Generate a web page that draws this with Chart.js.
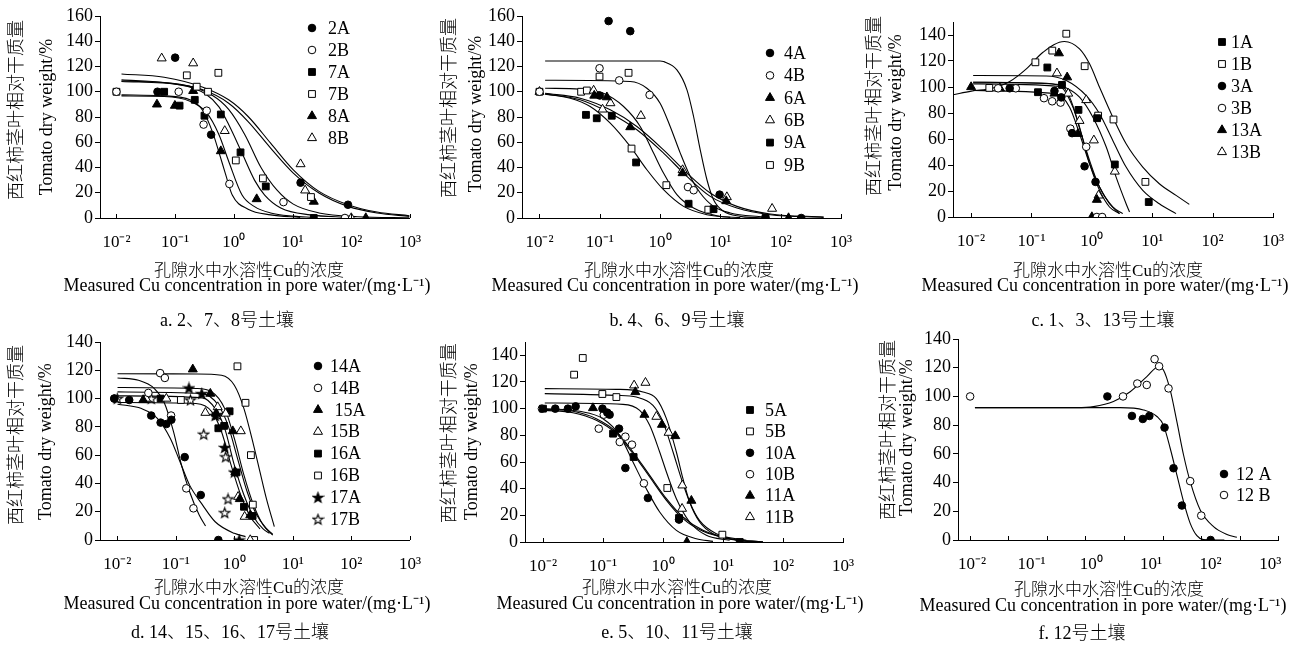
<!DOCTYPE html>
<html>
<head>
<meta charset="utf-8">
<script src="https://cdn.jsdelivr.net/npm/chart.js@4.4.1/dist/chart.umd.min.js"></script>
<style>
  body { margin: 0; background: #fff; width: 1305px; height: 650px; position: relative; overflow: hidden; }
  canvas { position: absolute; }
</style>
</head>
<body>
<script>
const FONT = '"Liberation Serif", "Noto Sans CJK SC", serif';

// axis ticks
const xTickValues = [0.01, 0.1, 1, 10, 100, 1000];
const xTickLabels = ['10⁻²', '10⁻¹', '10⁰', '10¹', '10²', '10³'];
const yTicks160 = [0, 20, 40, 60, 80, 100, 120, 140, 160];
const yTicks140 = [0, 20, 40, 60, 80, 100, 120, 140];
// panel f has its tick marks off the decades (log10 positions)
const fTickMarkExp = [-2.03, -1.39, -0.74, -0.10, 0.55, 1.20, 1.84, 2.49, 3.13];

// ---- a. soils 2, 7, 8  [Cu mg/L, dry weight %]
const s2A = [[0.05,100],[0.1,127],[0.41,66],[13.7,28],[88,10.5]];
const s2B = [[0.01,100],[0.115,100],[0.305,74],[0.345,85],[0.84,27],[7.0,12.6],[78,0]];
const s7A = [[0.065,100],[0.119,89],[0.216,93.6],[0.316,81],[0.6,82],[1.3,52],[3.5,25],[23,0]];
const s7B = [[0.01,100],[0.158,113],[0.233,104],[0.363,100],[0.545,115],[1.08,45.6],[3.13,31.4],[20.6,16.6]];
const s8A = [[0.049,90],[0.099,89],[0.203,100.7],[0.6,53],[2.45,15],[23,13],[177,0]];
const s8B = [[0.059,126.5],[0.203,122.6],[0.7,69],[13.7,42.7],[16.4,21.9],[100,0]];
const fitA1 = [[0.0122,97.5],[0.065,96.7],[0.179,93.6],[0.297,85],[0.434,68],[0.558,52],[0.72,35],[0.94,18.2],[1.75,7],[4.23,2.5],[13.5,0.5]];
const fitA2 = [[0.0122,96.7],[0.065,96.2],[0.179,92.5],[0.336,84],[0.558,66],[0.816,45],[1.38,18.2],[2.25,9],[4.23,4],[10.3,1.5],[22,0.5]];
const fitA3 = [[0.0122,108.1],[0.122,105.4],[0.336,98],[0.558,88],[0.816,74],[1.36,52],[2.25,30],[3.35,18.2],[6.3,8],[20,2.5],[90,0.5]];
const fitA4 = [[0.0122,108.5],[0.122,106],[0.434,97],[0.816,86],[1.54,66],[2.9,40],[5.45,22],[10.3,11],[28.2,4],[129,1],[975,0.2]];
const fitA5 = [[0.0122,114.1],[0.065,111.5],[0.297,103.6],[0.816,93.6],[1.75,80.4],[4.23,59.3],[10.3,38.2],[28.2,21.1],[88,10.5],[275,4.7],[975,1.8]];
const fitA6 = [[0.0122,109.4],[0.065,107.3],[0.297,101.5],[0.816,90.9],[1.75,76.4],[4.23,55.4],[10.3,35.6],[28.2,19.8],[88,9.2],[275,4],[975,1.3]];

// ---- b. soils 4, 6, 9
const s4A = [[0.1,97],[0.14,156],[0.32,148],[9.7,18.5],[56,0],[219,0]];
const s4B = [[0.01,100],[0.099,118.6],[0.21,109],[0.67,97.5],[2.9,24.5],[3.6,22]];
const s6A = [[0.081,97],[0.131,95.7],[0.32,72],[2.36,35.6],[12.5,13.4],[135,0]];
const s6B = [[0.01,100],[0.079,101],[0.111,86],[0.15,91],[0.48,81],[2.36,38],[12.8,16.6],[72,7.4]];
const s9A = [[0.059,81.7],[0.089,79],[0.158,81],[0.4,44],[2.97,11.3],[7.7,7],[56,0]];
const s9B = [[0.01,100],[0.049,100],[0.061,101],[0.099,112],[0.3,115],[0.336,55],[1.27,26],[6.3,6.6]];
const fitB1 = [[0.0124,124.4],[1.0,124.4],[1.14,123.9],[1.9,117.3],[2.79,101.5],[3.59,80.4],[4.63,54],[5.98,30.3],[7.7,14.5],[11.3,5.3],[21.4,1.3],[52,0]];
const fitB2 = [[0.0124,109.1],[0.319,108.1],[0.604,102.8],[1.0,90.9],[1.47,72.5],[2.16,51.4],[3.16,32.9],[4.63,19.8],[7.7,9.2],[14.6,4],[52,0.8]];
const fitB3 = [[0.0124,102.8],[0.0473,102],[0.115,98.8],[0.248,88.3],[0.468,72.5],[0.78,51.4],[1.14,35.6],[1.9,18.5],[3.59,7.9],[8.75,1.8],[21.4,0.3]];
const fitB4 = [[0.0124,98.1],[0.0323,94.9],[0.0693,88.3],[0.149,75.1],[0.319,56.7],[0.604,38.2],[1.14,22.4],[2.45,9.2],[5.98,2.6],[14.6,0.5]];
const fitB5 = [[0.0124,98.3],[0.0473,93.6],[0.149,83],[0.412,69.9],[1.14,51.4],[2.79,32.9],[6.79,17.1],[18.8,7.9],[67,2.6],[515,0.5]];
const fitB6 = [[0.0124,98.8],[0.0473,94.9],[0.149,85.7],[0.412,72.5],[1.14,54],[2.79,35.6],[6.79,19.8],[18.8,9.2],[67,3.2],[515,0.8]];

// ---- c. soils 1, 3, 13
const s1A = [[0.128,96],[0.183,115],[0.32,101.6],[0.6,82.4],[1.22,76],[2.4,40.4],[8.75,11.5]];
const s1B = [[0.02,99.3],[0.116,119],[0.221,128],[0.377,141],[0.76,116],[1.27,78],[2.28,75],[7.7,27]];
const s3A = [[0.0435,99],[0.24,97],[0.311,92],[0.47,64.5],[0.757,39],[1.15,27]];
const s3B = [[0.028,99],[0.055,99],[0.161,91.4],[0.22,89],[0.303,88],[0.44,68],[0.806,54],[1.21,0],[1.48,0]];
const s13A = [[0.01,100],[0.03,99],[0.24,95],[0.285,126],[0.39,107.5],[0.587,64],[1.0,0],[1.21,13.3]];
const s13B = [[0.264,110.6],[0.406,95],[0.625,74],[0.806,90],[1.08,59],[1.29,16.6],[2.4,35]];
const fitC1 = [[0.00504,94],[0.0101,96.8],[0.0231,99.3],[0.0436,104.2],[0.0822,113.9],[0.155,126.7],[0.35,135],[0.625,129.3],[0.915,117.8],[1.34,99.8],[2.22,76.8],[3.69,56.3],[6.97,38.4],[13.1,25.6],[24.8,16.6],[41.1,9.7]];
const fitC2 = [[0.0108,108.8],[0.176,108.5],[0.377,105],[0.806,93.4],[1.34,79.4],[2.22,58.9],[3.69,38.4],[6.97,20.5],[13.1,10.2],[24.8,2.6]];
const fitC3 = [[0.0108,103.7],[0.176,102.9],[0.377,99.3],[0.625,92.2],[1.04,76.8],[1.73,53.8],[2.52,30.7],[3.69,10.2],[4.2,3.8]];
const fitC4 = [[0.0108,103.7],[0.292,101.9],[0.428,92.2],[0.625,69.1],[0.915,41],[1.34,20.5],[1.96,7.7],[2.87,2.6]];
const fitC5 = [[0.0108,102.4],[0.292,100.4],[0.485,84.5],[0.667,64],[0.915,43.5],[1.34,23],[2.22,7.7],[3.25,2.6]];
const fitC6 = [[0.0108,97.3],[0.257,94.7],[0.428,84.5],[0.625,64],[0.915,41],[1.34,23],[1.96,10.2],[2.87,2.6]];

// ---- d. soils 14, 15, 16, 17
const s14A = [[0.0089,100],[0.016,99],[0.038,88],[0.055,83],[0.069,82],[0.084,85],[0.142,58.6],[0.267,31.8],[0.533,0]];
const s14B = [[0.0089,100],[0.034,104],[0.054,118],[0.065,114.6],[0.083,88],[0.151,36.5],[0.2,22.4]];
const s15A = [[0.0277,99],[0.195,120.7],[0.389,103.5],[0.488,89.4],[0.94,77],[1.04,48],[1.24,29],[1.87,17.6]];
const s15B = [[0.031,100],[0.069,100],[0.32,90],[0.52,94],[0.71,89.4],[1.29,77],[1.16,30.6],[1.5,16.5],[1.87,0]];
const s16A = [[0.055,100],[0.533,79],[0.67,80.7],[0.83,91],[1.09,47.8],[1.46,23.5],[2.05,17]];
const s16B = [[0.122,99],[1.13,122.8],[1.55,97],[1.92,60],[2.07,25],[2.18,0]];
const s17A = [[0.168,107.5],[0.277,103.5],[0.47,88],[0.685,65.4],[1.0,48],[1.21,0]];
const s17B = [[0.01,100],[0.038,100],[0.178,99],[0.3,74.8],[0.513,88.7],[0.71,58.8],[0.78,29],[0.685,19.3]];
const fitD1 = [[0.0101,114.6],[0.023,112.9],[0.043,107.1],[0.0628,97.6],[0.0916,76.5],[0.125,52.9],[0.172,34.1],[0.251,17.6],[0.322,9.9]];
const fitD2 = [[0.0101,96],[0.026,92.9],[0.0489,85.9],[0.0807,71.8],[0.118,55.3],[0.172,38.8],[0.284,25],[0.47,12.9],[1.0,4.7],[1.553,2.4]];
const fitD3 = [[0.0101,117.6],[0.221,117.4],[0.604,116.5],[1.0,109.4],[1.459,92.9],[2.13,67.1],[2.74,48.2],[3.52,29.4],[4.82,9.4]];
const fitD4 = [[0.0101,107.8],[0.221,107.1],[0.414,104.7],[0.686,92.9],[1.0,71.8],[1.459,45.9],[2.13,24.7],[3.1,10.6],[4.53,3.5]];
const fitD5 = [[0.0101,104.7],[0.284,103.5],[0.533,95.3],[0.778,81.2],[1.135,57.6],[1.655,34.1],[2.415,17.6],[3.52,8.2],[4.53,4]];
const fitD6 = [[0.0101,101.9],[0.284,100.5],[0.47,92.9],[0.686,78.8],[1.0,52.9],[1.459,31.8],[2.13,16.5],[3.1,7.8],[3.99,4.7]];
const fitD7 = [[0.0101,97.2],[0.221,96.5],[0.414,90.6],[0.604,76.5],[0.881,52.9],[1.286,31.8],[1.876,16.5],[2.74,7.8]];

// ---- e. soils 5, 10, 11
const s5A = [[0.01,100],[0.147,81.25],[0.324,63.75],[1.85,18],[19,0]];
const s5B = [[0.033,125.5],[0.046,138],[0.0975,111],[0.167,108.7],[1.18,40.5],[9.75,5.5]];
const s10A = [[0.016,100],[0.026,100],[0.035,101.7],[0.098,100],[0.118,97],[0.129,95.5],[0.185,85],[0.236,55.5],[0.56,33],[1.85,16.8]];
const s10B = [[0.0096,100],[0.085,85],[0.103,95.5],[0.19,75],[0.236,79],[0.304,73],[0.48,44]];
const s11A = [[0.068,100.5],[0.346,112.5],[0.49,95.5],[0.96,88],[1.6,79.5],[2.97,31],[2.5,0]];
const s11B = [[0.33,117.5],[0.51,119.5],[0.775,94],[1.24,82],[2.1,42.5],[2.08,25]];
const fitE1 = [[0.0107,115],[0.167,114.5],[0.464,112.5],[0.774,107.5],[1.14,92.5],[1.67,67.5],[2.15,47.5],[2.78,30],[4.08,15],[6.81,6.25],[16.7,1.25],[46.4,0]];
const fitE2 = [[0.0107,111.25],[0.167,110],[0.36,108.7],[0.681,102.5],[1.0,90],[1.47,67.5],[2.02,47.5],[2.78,30],[4.08,16],[7.74,6.25],[24.5,1.25]];
const fitE3 = [[0.0107,104.25],[0.215,103.25],[0.409,98.75],[0.6,87.5],[0.88,67.5],[1.14,52.5],[1.67,32.5],[2.78,15],[5.27,5],[12.9,1.25]];
const fitE4 = [[0.0107,99.5],[0.0316,98],[0.0774,92.5],[0.167,82.5],[0.316,67.5],[0.6,50],[1.14,32.5],[2.15,18.75],[4.64,8.75],[12.9,2.5],[46.4,0]];
const fitE5 = [[0.0107,98.75],[0.0316,97],[0.0774,91.25],[0.167,81.25],[0.316,66.25],[0.6,48.75],[1.14,31.25],[2.15,17.5],[4.64,8],[12.9,2.5],[46.4,0]];
const fitE6 = [[0.0107,100],[0.0409,98],[0.1,92.5],[0.19,80],[0.316,60],[0.527,40],[0.88,22.5],[1.67,8.75],[3.59,2.5],[6.81,0.5]];

// ---- f. soil 12
const s12A = [[1.86,100],[4.8,86.4],[7.3,84.3],[9.4,86.4],[16.9,78.3],[23.9,50],[33,24],[100,0]];
const s12B = [[0.0093,100],[3.4,100],[5.9,109],[8.5,108],[11.5,126],[13.7,121],[19.7,105.6],[45.5,41],[69.7,17]];
const fitF1 = [[0.0112,92.2],[3.04,92.2],[7.5,90.6],[12.6,86],[16.2,80],[21,63.9],[27.2,45.3],[35.2,26.7],[45.5,11.6],[58.9,3],[76,0.3],[170,0]];
const fitF2 = [[0.0112,92.2],[0.57,92.2],[1.09,92.9],[2.35,96.4],[4.48,103.3],[8.53,113.8],[13.4,120.7],[16.2,118.4],[21,104.5],[27.2,82.4],[35.2,59.2],[45.5,40.6],[67,20.9],[112,9.3],[188,3.9],[276,1.9]];

// five-point star marker, drawn once
function starImage(filled) {
  const c = document.createElement('canvas');
  c.width = 13; c.height = 13;
  const g = c.getContext('2d');
  g.beginPath();
  for (let i = 0; i < 10; i++) {
    const r = i % 2 ? 2.2 : 5.3;
    const a = -Math.PI / 2 + i * Math.PI / 5;
    g.lineTo(6.5 + r * Math.cos(a), 7 + r * Math.sin(a));
  }
  g.closePath();
  g.fillStyle = filled ? '#000' : '#fff';
  g.fill();
  g.lineWidth = 1.1;
  g.strokeStyle = '#000';
  g.stroke();
  return c;
}
const starFilled = starImage(true);
const starOpen = starImage(false);

const markerRadius = { circle: 3.8, rect: 4.8, triangle: 5.2 };

const marker = (label, pts, style, filled) => {
  const img = style === 'star' ? (filled ? starFilled : starOpen) : null;
  return {
    label: label,
    data: pts.map(p => ({ x: p[0], y: p[1] })),
    pointStyle: img || style,
    pointRadius: img ? 6 : markerRadius[style],
    backgroundColor: filled ? '#000' : '#fff',
    borderColor: '#000',
    pointBorderWidth: 1,
    showLine: false
  };
};

const fitLine = pts => ({
  data: pts.map(p => ({ x: p[0], y: p[1] })),
  showLine: true,
  pointRadius: 0,
  borderColor: '#000',
  borderWidth: 1.1,
  cubicInterpolationMode: 'monotone',
  fill: false
});

// layout in page pixels
const panels = [
  { canvas: [0, 0, 435, 335], plot: [100, 16, 420, 218], xExp: [-2.28, 3], yMax: 160, yTicks: yTicks160,
    yTitle: [17, 110, 47, 117], xTitle: [249, 247, 271.5, 286.5], caption: ['a. 2、7、8号土壤', 227, 321.5],
    legend: [312, 328, 28, 22],
    markers: [marker('2A', s2A, 'circle', true), marker('2B', s2B, 'circle', false), marker('7A', s7A, 'rect', true),
              marker('7B', s7B, 'rect', false), marker('8A', s8A, 'triangle', true), marker('8B', s8B, 'triangle', false)],
    fits: [fitA1, fitA2, fitA3, fitA4, fitA5, fitA6] },
  { canvas: [430, 0, 440, 335], plot: [522, 16, 841, 218], xExp: [-2.29, 3], yMax: 160, yTicks: yTicks160,
    yTitle: [450.5, 108, 476, 114], xTitle: [679, 675, 271.5, 286.5], caption: ['b. 4、6、9号土壤', 677, 321.5],
    legend: [770, 784, 53, 22.4],
    markers: [marker('4A', s4A, 'circle', true), marker('4B', s4B, 'circle', false), marker('6A', s6A, 'triangle', true),
              marker('6B', s6B, 'triangle', false), marker('9A', s9A, 'rect', true), marker('9B', s9B, 'rect', false)],
    fits: [fitB1, fitB2, fitB3, fitB4, fitB5, fitB6] },
  { canvas: [860, 0, 445, 335], plot: [953, 22, 1273, 217], xExp: [-2.30, 3], yMax: 150, yTicks: yTicks140,
    yTitle: [875.5, 106, 896.5, 112.5], xTitle: [1108, 1105, 271.5, 286.5], caption: ['c. 1、3、13号土壤', 1103, 321.5],
    legend: [1222, 1231, 42, 22],
    markers: [marker('1A', s1A, 'rect', true), marker('1B', s1B, 'rect', false), marker('3A', s3A, 'circle', true),
              marker('3B', s3B, 'circle', false), marker('13A', s13A, 'triangle', true), marker('13B', s13B, 'triangle', false)],
    fits: [fitC1, fitC2, fitC3, fitC4, fitC5, fitC6] },
  { canvas: [0, 325, 435, 325], plot: [100, 342, 423, 540], xExp: [-2.295, 3], yMax: 140, yTicks: yTicks140,
    yTitle: [17.3, 435, 46.7, 441.7], xTitle: [249, 247, 589, 604.5], caption: ['d. 14、15、16、17号土壤', 230, 633],
    legend: [318, 330, 366, 21.9],
    markers: [marker('14A', s14A, 'circle', true), marker('14B', s14B, 'circle', false), marker(' 15A', s15A, 'triangle', true),
              marker('15B', s15B, 'triangle', false), marker('16A', s16A, 'rect', true), marker('16B', s16B, 'rect', false),
              marker('17A', s17A, 'star', true), marker('17B', s17B, 'star', false)],
    fits: [fitD1, fitD2, fitD3, fitD4, fitD5, fitD6, fitD7] },
  { canvas: [430, 325, 440, 325], plot: [525, 342, 843, 542], xExp: [-2.30, 3], yMax: 150, yTicks: yTicks140,
    yTitle: [450.7, 433.3, 472.3, 441.7], xTitle: [677, 680, 589, 604.5], caption: ['e. 5、10、11号土壤', 677, 633],
    legend: [750, 765, 410, 21.4],
    markers: [marker('5A', s5A, 'rect', true), marker('5B', s5B, 'rect', false), marker('10A', s10A, 'circle', true),
              marker('10B', s10B, 'circle', false), marker('11A', s11A, 'triangle', true), marker('11B', s11B, 'triangle', false)],
    fits: [fitE1, fitE2, fitE3, fitE4, fitE5, fitE6] },
  { canvas: [860, 325, 445, 325], plot: [958, 339, 1278, 540], xExp: [-2.235, 3.13], yMax: 140, yTicks: yTicks140,
    yTitle: [889, 430, 907.3, 437.7], xTitle: [1109, 1103, 590.5, 606], caption: ['f. 12号土壤', 1082, 634],
    legend: [1224, 1236, 474, 21], tickMarkExp: fTickMarkExp,
    markers: [marker('12 A', s12A, 'circle', true), marker('12 B', s12B, 'circle', false)],
    fits: [fitF1, fitF2] }
];

// tick marks inside the x axis, inner legend, axis titles and caption
const panelDecor = {
  id: 'panelDecor',
  afterDraw(chart, args, o) {
    const ctx = chart.ctx;
    const xs = chart.scales.x;
    const bottom = chart.chartArea.bottom;
    const ox = o.offset[0], oy = o.offset[1];
    ctx.save();
    ctx.strokeStyle = '#000';
    ctx.lineWidth = 1;
    o.xMarks.forEach(v => {
      const px = Math.round(xs.getPixelForValue(v)) + 0.5;
      ctx.beginPath();
      ctx.moveTo(px, bottom);
      ctx.lineTo(px, bottom - 4);
      ctx.stroke();
    });

    const [mx, tx, y0, dy] = o.legend;
    ctx.font = '18px ' + FONT;
    ctx.textBaseline = 'middle';
    ctx.textAlign = 'left';
    chart.data.datasets.filter(ds => !ds.showLine).forEach((ds, i) => {
      const y = y0 + i * dy - oy;
      ctx.fillStyle = ds.backgroundColor;
      ctx.strokeStyle = '#000';
      ctx.lineWidth = 1;
      Chart.helpers.drawPoint(ctx, { pointStyle: ds.pointStyle, radius: ds.pointRadius, rotation: 0, borderWidth: 1 }, mx - ox, y);
      ctx.fillStyle = '#000';
      ctx.fillText(ds.label, tx - ox, y + 1);
    });

    ctx.fillStyle = '#000';
    ctx.textAlign = 'center';
    const [x1, cy1, x2, cy2] = o.yTitle;
    ctx.save();
    ctx.translate(x1 - ox, cy1 - oy);
    ctx.rotate(-Math.PI / 2);
    ctx.font = '300 18px ' + FONT;
    ctx.fillText('西红柿茎叶相对干质量', 0, 0);
    ctx.restore();
    ctx.save();
    ctx.translate(x2 - ox, cy2 - oy);
    ctx.rotate(-Math.PI / 2);
    ctx.font = '18px ' + FONT;
    ctx.fillText('Tomato dry weight/%', 0, 0);
    ctx.restore();

    const [cx1, cx2, ty1, ty2] = o.xTitle;
    ctx.font = '300 17px ' + FONT;
    ctx.fillText('孔隙水中水溶性Cu的浓度', cx1 - ox, ty1 - oy);
    ctx.font = '18px ' + FONT;
    ctx.fillText('Measured Cu concentration in pore water/(mg·L⁻¹)', cx2 - ox, ty2 - oy);

    const [text, capX, capY] = o.caption;
    ctx.font = '300 18px ' + FONT;
    ctx.fillText(text, capX - ox, capY - oy);
    ctx.restore();
  }
};

const drawPanel = p => {
  const [cx, cy, cw, ch] = p.canvas;
  const [L, T, R, B] = p.plot;
  const yW = 40, xH = 40;
  const cv = document.createElement('canvas');
  cv.width = cw;
  cv.height = ch;
  cv.style.left = cx + 'px';
  cv.style.top = cy + 'px';
  document.body.appendChild(cv);

  const marks = p.tickMarkExp ? p.tickMarkExp.map(e => Math.pow(10, e)) : xTickValues;

  new Chart(cv, {
    type: 'scatter',
    data: { datasets: p.markers.concat(p.fits.map(fitLine)) },
    options: {
      responsive: false,
      animation: false,
      layout: { padding: { left: L - cx - yW, top: T - cy, right: cx + cw - R, bottom: cy + ch - B - xH } },
      plugins: {
        legend: { display: false },
        tooltip: { enabled: false },
        panelDecor: { offset: [cx, cy], xMarks: marks, legend: p.legend, yTitle: p.yTitle, xTitle: p.xTitle, caption: p.caption }
      },
      scales: {
        x: {
          type: 'logarithmic',
          bounds: 'data',
          min: Math.pow(10, p.xExp[0]),
          max: Math.pow(10, p.xExp[1]),
          afterFit: s => { s.height = xH; },
          afterBuildTicks: s => { s.ticks = xTickValues.map(v => ({ value: v })); },
          grid: { display: false, drawTicks: false },
          border: { display: true, color: '#000', width: 1 },
          ticks: {
            color: '#000', font: { size: 17, family: FONT }, padding: 14, maxRotation: 0, autoSkip: false,
            callback: v => xTickLabels[xTickValues.indexOf(v)]
          }
        },
        y: {
          min: 0,
          max: p.yMax,
          afterFit: s => { s.width = yW; },
          afterBuildTicks: s => { s.ticks = p.yTicks.map(v => ({ value: v })); },
          grid: { drawOnChartArea: false, drawTicks: true, tickLength: 5, color: '#000' },
          border: { display: true, color: '#000', width: 1 },
          ticks: { color: '#000', font: { size: 18, family: FONT }, padding: 2 }
        }
      }
    },
    plugins: [panelDecor]
  });
};

panels.forEach(drawPanel);
</script>
</body>
</html>
